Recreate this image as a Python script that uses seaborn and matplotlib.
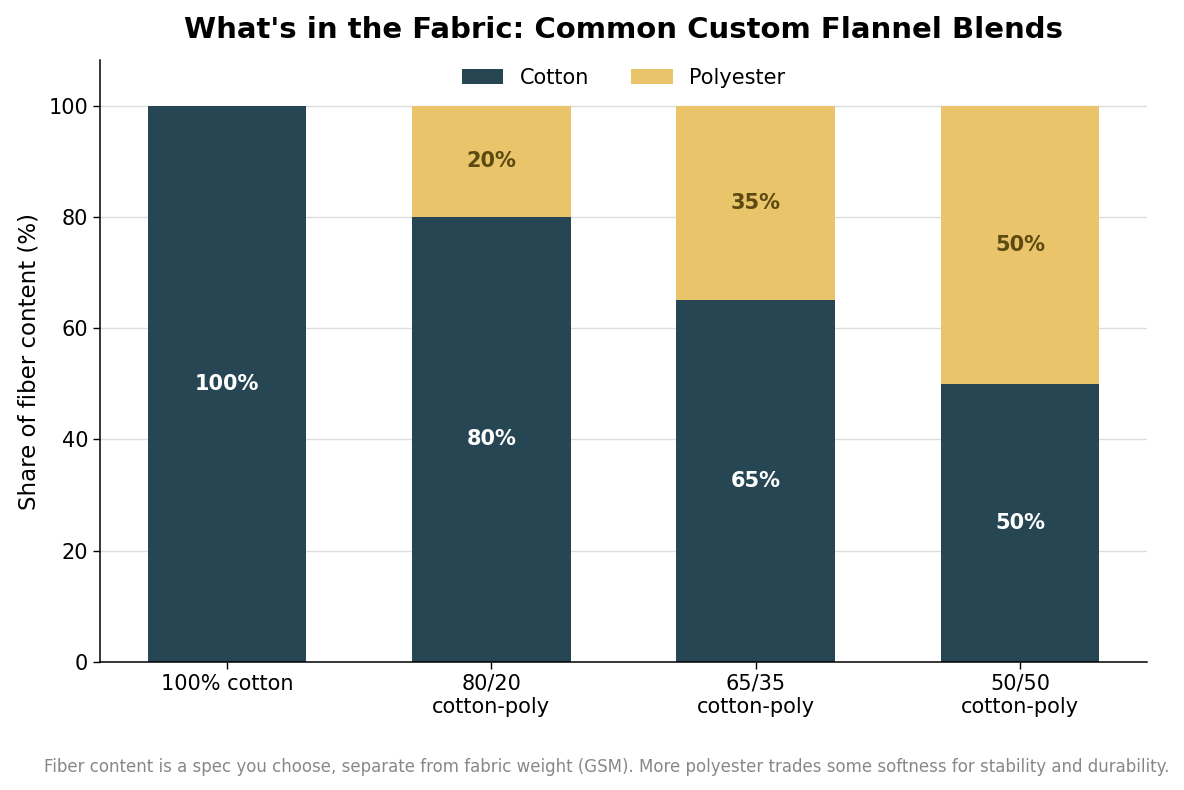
import numpy as np
import pandas as pd
import matplotlib
matplotlib.use("Agg")
import matplotlib.pyplot as plt
import seaborn as sns

sns.set_theme(style="whitegrid")
plt.rcParams['font.family'] = ['DejaVu Sans']
plt.rcParams['text.color'] = 'black'
plt.rcParams['axes.labelcolor'] = 'black'
plt.rcParams['xtick.color'] = 'black'
plt.rcParams['ytick.color'] = 'black'

# data
blends = ["100% cotton", "80/20\ncotton-poly", "65/35\ncotton-poly", "50/50\ncotton-poly"]
cotton = [100, 80, 65, 50]
polyester = [0, 20, 35, 50]

cotton_color = "#264653"
poly_color = "#E9C46A"

df = pd.DataFrame({"blend": blends, "cotton": cotton, "polyester": polyester})

fig, ax = plt.subplots(figsize=(11.84, 7.9), dpi=100)
fig.subplots_adjust(left=0.0845, right=0.9688, top=0.924, bottom=0.162)

sns.barplot(data=df, x="blend", y="cotton", color=cotton_color, width=0.6,
            saturation=1, linewidth=0, label="Cotton", ax=ax)
sns.barplot(data=df, x="blend", y="polyester", color=poly_color, width=0.6,
            saturation=1, linewidth=0, bottom=df["cotton"], label="Polyester", ax=ax)

# labels inside the segments
ax.bar_label(ax.containers[0], labels=[f"{v}%" for v in cotton], label_type="center",
             color="white", fontsize=15, fontweight="bold")
ax.bar_label(ax.containers[1], labels=[f"{v}%" if v > 0 else "" for v in polyester],
             label_type="center", color="#5C4A10", fontsize=15, fontweight="bold")

ax.set_ylim(0, 108.2)
ax.set_xlim(-0.48, 3.48)
ax.set_yticks([0, 20, 40, 60, 80, 100])
ax.set_title("What's in the Fabric: Common Custom Flannel Blends",
             fontsize=21, fontweight="bold", pad=16, color="black")
ax.set_xlabel("")
ax.set_ylabel("Share of fiber content (%)", fontsize=16.5, labelpad=6)
ax.tick_params(axis="both", labelsize=15, length=5, width=1, color="black",
               bottom=True, left=True)

ax.grid(axis="y", color="#dddddd", linewidth=1)
ax.grid(axis="x", visible=False)
ax.set_axisbelow(True)
for s in ["top", "right"]:
    ax.spines[s].set_visible(False)
for s in ["left", "bottom"]:
    ax.spines[s].set_color("black")
    ax.spines[s].set_linewidth(1.1)

ax.legend(loc="upper center", ncol=2, frameon=False, fontsize=15,
          bbox_to_anchor=(0.5, 1.018))

fig.text(0.512, 0.029,
         "Fiber content is a spec you choose, separate from fabric weight (GSM). "
         "More polyester trades some softness for stability and durability.",
         ha="center", va="center", fontsize=12, color="#888888")

plt.savefig("out.png", dpi=100)
plt.close(fig)
